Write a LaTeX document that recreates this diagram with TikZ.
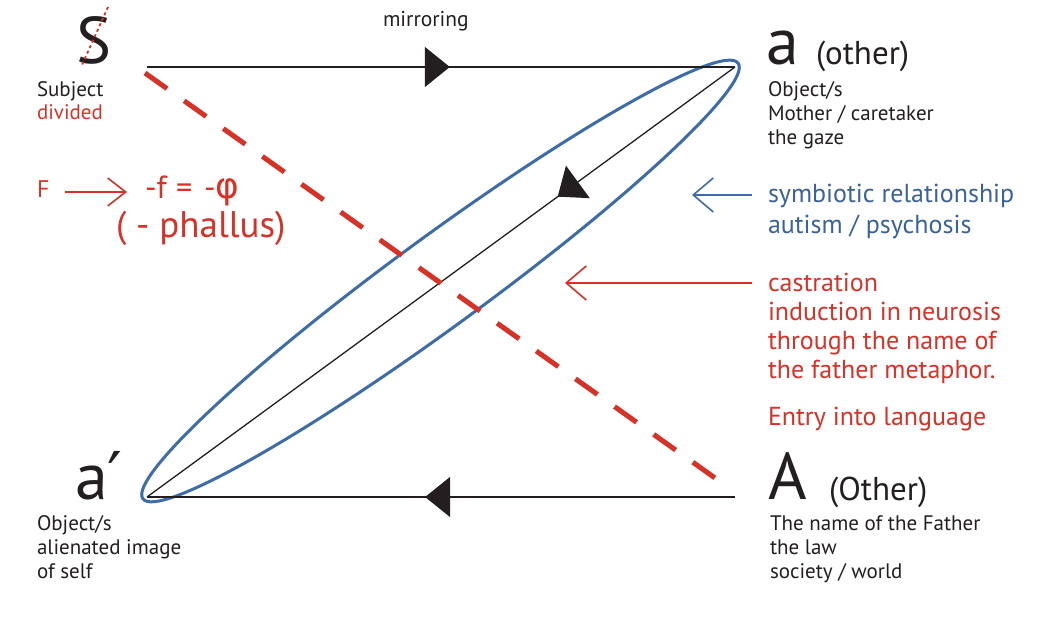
\documentclass[tikz,border=0pt]{standalone}
\usepackage{fontspec}
\setmainfont{PT Sans}
\newfontfamily\symfont{DejaVu Sans}
\usetikzlibrary{arrows.meta,decorations.markings}
\definecolor{ink}{RGB}{35,31,32}
\definecolor{lacred}{RGB}{214,50,40}
\definecolor{lacblue}{RGB}{62,108,168}
\definecolor{txtblue}{RGB}{58,98,155}
\tikzset{
  every node/.style={inner sep=0pt, outer sep=0pt, text=ink, align=left},
  bigletter/.style={font=\fontsize{66}{66}\selectfont, anchor=base west},
  paren/.style={font=\fontsize{33}{33}\selectfont, anchor=base west},
  caption/.style={font=\fontsize{21}{24}\selectfont, anchor=base west},
  note/.style={font=\fontsize{26}{29}\selectfont, anchor=base west},
  formula/.style={font=\fontsize{32}{32}\selectfont, anchor=base west, text=lacred},
  midarrow/.style={postaction={decorate}, decoration={markings,
      mark=at position #1 with {\arrow{Triangle[length=25pt,width=40pt]}}}},
  mainline/.style={draw=ink, line width=1.3pt},
  openarrow/.style={-{Straight Barb[length=20pt,width=34pt,line width=1.6pt]}, line width=1.6pt},
}
\begin{document}
\begin{tikzpicture}[x=1pt,y=1pt]
\useasboundingbox[fill=white] (0,0) rectangle (1056,626);

% corner coordinates
\coordinate (pS) at (147,559);
\coordinate (pa) at (735,559);
\coordinate (pa2) at (147,129);
\coordinate (pA) at (735,129);

% ellipse
\draw[lacblue, line width=3pt, shift={(440.5,345)}, rotate=36.2]
  (0,0) ellipse [x radius=368.8, y radius=45];

% connectors
\draw[mainline, midarrow=0.515] (pS) -- (pa);
\draw[mainline, midarrow=0.527] (pA) -- (pa2);
\draw[mainline, midarrow=0.3016] (pa) -- (pa2);

% red dashed castration line
\coordinate (r1) at (145,553);
\coordinate (r2) at (715,148);
\draw[lacred, line width=5pt, dash pattern=on 27pt off 21pt] (r1) -- (r2);

% S barred
\node[bigletter] (S) at (76,562) {S};
\coordinate (sl1) at (108,619);
\coordinate (sl2) at (82,561);
\draw[lacred, line width=1.8pt, dash pattern=on 3pt off 3pt] (sl1) -- (sl2);
\node[caption] (subj) at (37,529) {Subject};
\node[caption, text=lacred] (div) at (37,506) {divided};

\node[caption, font=\fontsize{21.5}{24}\selectfont] (mirr) at (383,599) {mirroring};

% F -> -f = -phi
\node[font=\fontsize{24}{24}\selectfont, anchor=base west, text=lacred] (F) at (37,428) {F};
\coordinate (fa1) at (65,434);
\coordinate (fa2) at (127,434);
\draw[lacred, -{Straight Barb[length=18pt,width=28pt,line width=1.6pt]}, line width=1.6pt] (fa1) -- (fa2);
\node[formula] (phiA) at (145,427) {-f};
\node[formula] (phiB) at (176,427) {=};
\node[formula] (phiC) at (204,427) {-{\symfont\fontsize{36}{36}\selectfont φ}};
\node[font=\fontsize{37}{37}\selectfont, anchor=base west, text=lacred] (phallus) at (116,388) {( - phallus)};

% a (other)
\node[bigletter] (a) at (766,561) {a};
\node[paren] (aother) at (816,561) {(other)};
\node[caption] (acap) at (768,481) {Object/s\\Mother / caretaker\\the gaze};

% symbiotic
\coordinate (b1) at (752,431);
\coordinate (b2) at (692,431);
\draw[lacblue, openarrow] (b1) -- (b2);
\node[note, text=txtblue, font=\fontsize{26}{31}\selectfont] (symb) at (768,392) {symbiotic relationship\\autism / psychosis};

% castration
\coordinate (c1) at (752,343);
\coordinate (c2) at (565,343);
\draw[lacred, openarrow] (c1) -- (c2);
\node[note, text=lacred] (cast) at (768,247) {castration\\induction in neurosis\\through the name of\\the father metaphor.};
\node[note, text=lacred] (entry) at (768,200) {Entry into language};

% a'
\node[bigletter] (a2) at (75,126) {a{\symfont ′}};
\node[caption] (a2cap) at (37,48) {Object/s\\alienated image\\of self};

% A (Other)
\node[bigletter] (A) at (768,126) {A};
\node[paren] (AOther) at (829,125) {(Other)};
\node[caption] (Acap) at (770,48) {The name of the Father\\the law\\society / world};
\end{tikzpicture}
\end{document}
